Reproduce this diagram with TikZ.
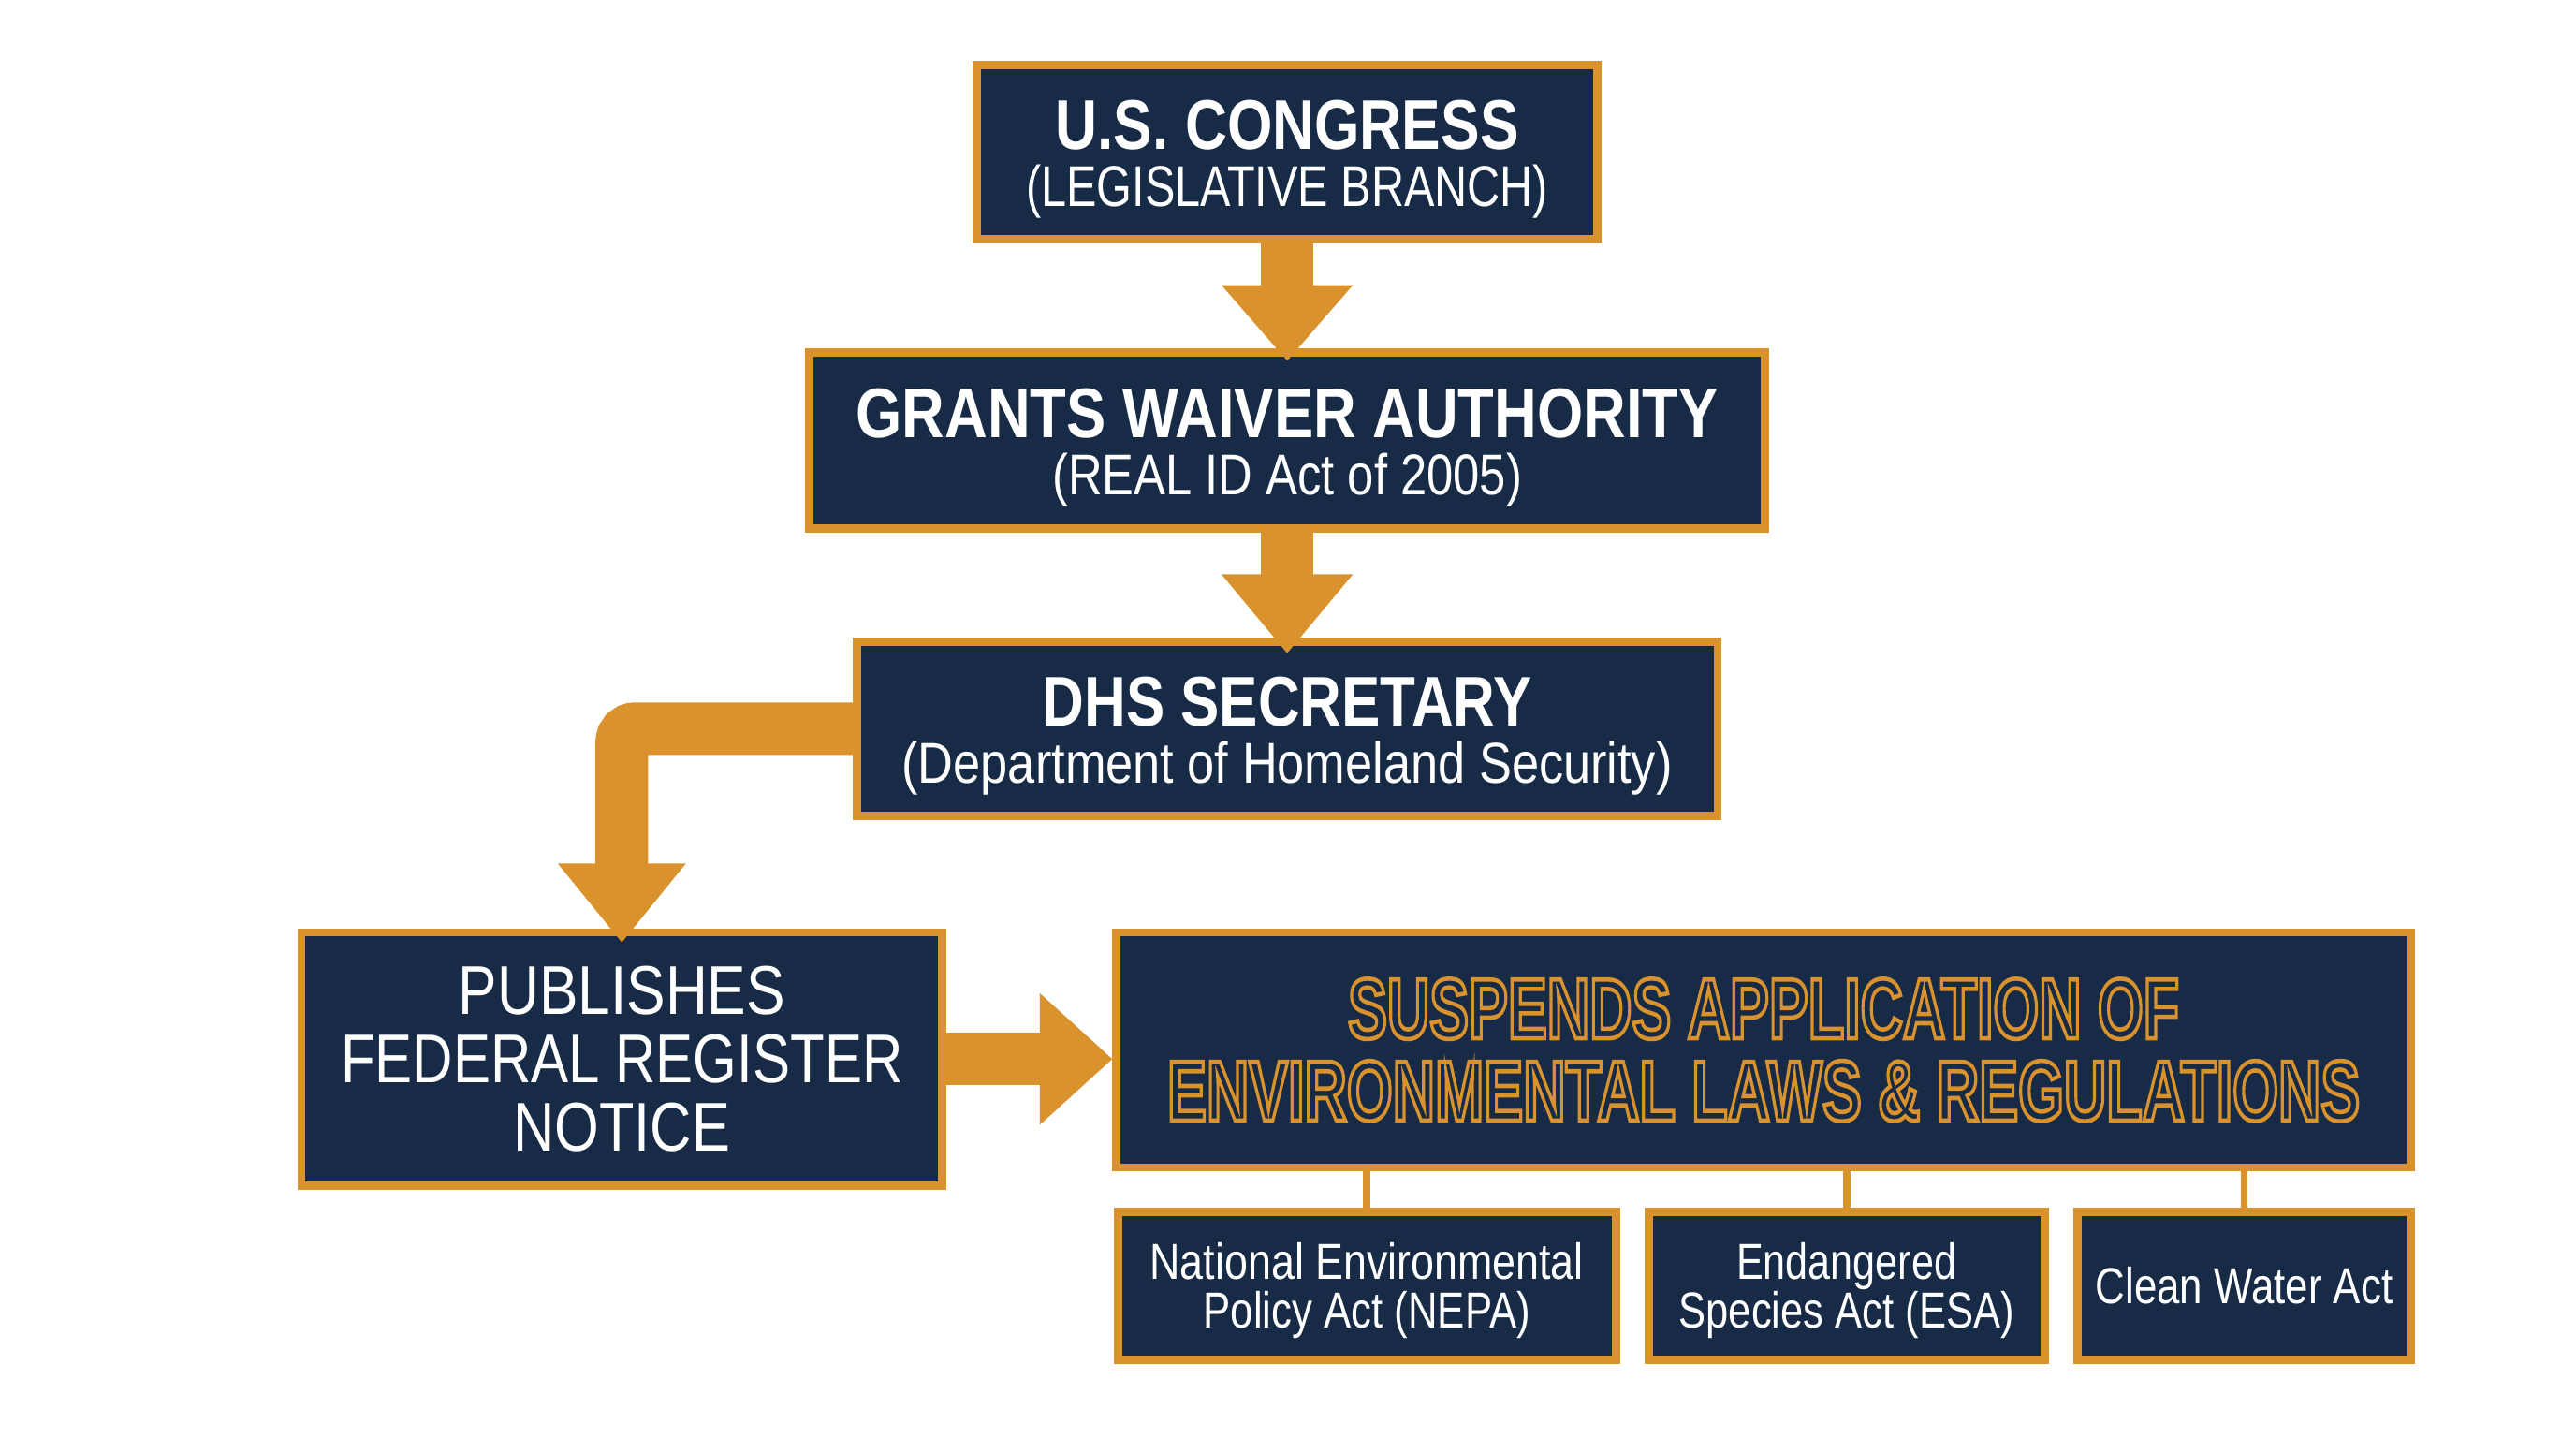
\documentclass[tikz,border=0pt]{standalone}
\usepackage{fontspec}
\setmainfont{Liberation Sans}
\usetikzlibrary{calc}
\definecolor{boxnavy}{RGB}{24,43,70}
\definecolor{ora}{RGB}{218,146,44}
\newsavebox\fitbox
\newlength\fitlen
\newcommand\fitw[2]{\sbox\fitbox{#2}\setlength\fitlen{\wd\fitbox}\pgfmathsetmacro\fitratio{#1/\fitlen}\scalebox{\fitratio}[1]{\usebox\fitbox}}
\newcommand\outl[2]{\sbox\fitbox{#2}\setlength\fitlen{\wd\fitbox}\pgfmathsetmacro\fitratio{#1/\fitlen}%
  \special{pdf:literal direct 1 Tr 1.3 w 0.855 0.573 0.173 RG}\scalebox{\fitratio}[1]{\usebox\fitbox}\special{pdf:literal direct 0 Tr}}
\newcommand\titlefont{\fontsize{21.4pt}{17.25pt}\selectfont\bfseries\lineskiplimit=-50pt}
\newcommand\subfont{\fontsize{17.5pt}{17.25pt}\selectfont\mdseries}
\newcommand\pubfont{\fontsize{21pt}{20.75pt}\selectfont\lineskiplimit=-50pt}
\newcommand\susfont{\fontsize{26pt}{25pt}\selectfont\bfseries\lineskiplimit=-50pt}
\newcommand\actfont{\fontsize{15.4pt}{15pt}\selectfont\lineskiplimit=-50pt}
\newcommand\tstrut{\rule{0pt}{19.5pt}}
\newcommand\astrut{\rule{0pt}{14pt}}
\tikzset{
  box/.style={draw=ora, line width=2.5pt, fill=boxnavy, text=white, inner sep=0pt, align=center},
  shaft/.style={draw=ora, line width=16pt},
  conn/.style={draw=ora, line width=2.2pt},
  headfill/.style={fill=ora}
}
\begin{document}
\begin{tikzpicture}[x=0.5pt,y=-0.5pt]
\fill[white] (0,0) rectangle (1568,875);
\useasboundingbox (0,0) rectangle (1568,875);

\node[box, minimum width=189pt, minimum height=53pt, font=\titlefont] (cong) at (783.5,92.5)
  {\tstrut\fitw{141pt}{U.S. CONGRESS}\\{\subfont\fitw{159pt}{(LEGISLATIVE BRANCH)}}};
\node[box, minimum width=291pt, minimum height=53.5pt, font=\titlefont] (grants) at (783.5,268)
  {\tstrut\fitw{262.5pt}{GRANTS WAIVER AUTHORITY}\\{\subfont\fitw{143pt}{(REAL ID Act of 2005)}}};
\node[box, minimum width=262pt, minimum height=53pt, font=\titlefont] (dhs) at (783.5,443.5)
  {\tstrut\fitw{149pt}{DHS SECRETARY}\\{\subfont\fitw{234.5pt}{(Department of Homeland Security)}}};
\node[box, minimum width=195pt, minimum height=77pt, font=\pubfont] (pub) at (378.5,644.5)
  {\fitw{99.5pt}{PUBLISHES}\\\fitw{171pt}{FEDERAL REGISTER}\\\fitw{66pt}{NOTICE}};
\node[box, minimum width=394pt, minimum height=71.5pt, font=\susfont, text=ora] (sus) at (1073.5,639)
  {\outl{253pt}{SUSPENDS APPLICATION OF}\\\outl{363pt}{ENVIRONMENTAL LAWS \& REGULATIONS}};
\node[box, minimum width=151.5pt, minimum height=45pt, font=\actfont] (nepa) at (832,782.5)
  {\astrut\fitw{132pt}{National Environmental}\\\fitw{99.5pt}{Policy Act (NEPA)}};
\node[box, minimum width=120.5pt, minimum height=45pt, font=\actfont] (esa) at (1124,782.5)
  {\astrut\fitw{67pt}{Endangered}\\\fitw{102pt}{Species Act (ESA)}};
\node[box, minimum width=101.5pt, minimum height=45pt, font=\actfont] (cwa) at (1366,782.5)
  {\fitw{90.5pt}{Clean Water Act}};

\draw[conn] (nepa.north) -- (nepa.north |- sus.south);
\draw[conn] (esa.north) -- (esa.north |- sus.south);
\draw[conn] (cwa.north) -- (cwa.north |- sus.south);

\coordinate (t1) at ($(grants.north)+(0,7.5)$);
\draw[shaft] (cong.south) -- ($(t1)+(0,-45)$);
\fill[headfill] (t1) -- ++(-40,-46) -- ++(80,0) -- cycle;

\coordinate (t2) at ($(dhs.north)+(0,9.5)$);
\draw[shaft] (grants.south) -- ($(t2)+(0,-47)$);
\fill[headfill] (t2) -- ++(-40,-48) -- ++(80,0) -- cycle;

\coordinate (t3) at ($(pub.north)+(0,8.5)$);
\draw[shaft, rounded corners=4pt] (dhs.west) -| ($(t3)+(0,-47)$);
\fill[headfill] (t3) -- ++(-39,-48) -- ++(78,0) -- cycle;

\coordinate (t4) at (pub.east -| sus.west);
\draw[shaft] (pub.east) -- ($(t4)+(-43,0)$);
\fill[headfill] (t4) -- ++(-44,-40) -- ++(0,80) -- cycle;
\end{tikzpicture}
\end{document}
